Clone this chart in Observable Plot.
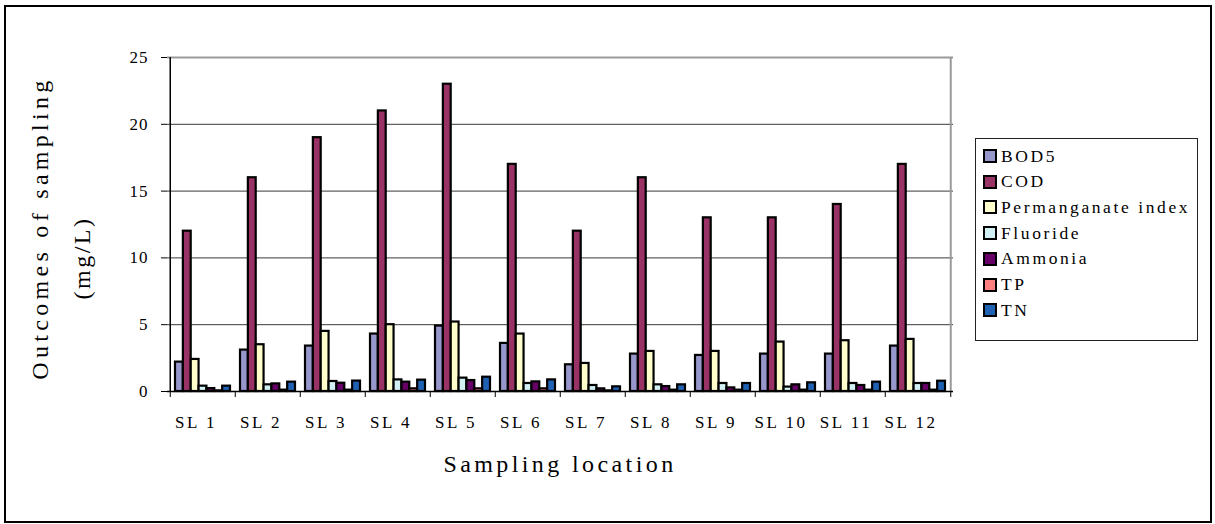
<!DOCTYPE html>
<html>
<head>
<meta charset="utf-8">
<script src="https://cdn.jsdelivr.net/npm/d3@7"></script>
<script src="https://cdn.jsdelivr.net/npm/@observablehq/plot@0.6"></script>
<style>
  body { margin: 0; background: #fff; }
  #wrap { position: relative; width: 1215px; height: 524px; }
  #legend { position: absolute; left: 975px; top: 138px; width: 223px; height: 203px;
    border: 1px solid #222; box-sizing: border-box; background: #fff;
    font-family: "Liberation Serif", "Times New Roman", serif; font-size: 17.5px; letter-spacing: 2.6px; color: #000; }
  .item { position: absolute; left: 7px; height: 20px; display: flex; align-items: center; white-space: nowrap; }
  .sw { width: 10px; height: 10px; border: 2px solid #000; margin-right: 4px; flex: none; }
</style>
</head>
<body>
<div id="wrap"><div id="legend"></div></div>
<script>
// ---- data ----
const locations = ["SL 1","SL 2","SL 3","SL 4","SL 5","SL 6","SL 7","SL 8","SL 9","SL 10","SL 11","SL 12"];
const seriesNames = ["BOD5","COD","Permanganate index","Fluoride","Ammonia","TP","TN"];
const seriesColors = ["#9797CC","#993366","#FFFFCC","#D2F0F4","#660066","#FF8080","#1F62B4"];
const bod5     = [2.2, 3.1, 3.4, 4.3, 4.9, 3.6, 2.0, 2.8, 2.7, 2.8, 2.8, 3.4];
const cod      = [12, 16, 19, 21, 23, 17, 12, 16, 13, 13, 14, 17];
const permIdx  = [2.4, 3.5, 4.5, 5.0, 5.2, 4.3, 2.1, 3.0, 3.0, 3.7, 3.8, 3.9];
const fluoride = [0.4, 0.5, 0.75, 0.87, 1.0, 0.6, 0.45, 0.5, 0.6, 0.33, 0.6, 0.6];
const ammonia  = [0.22, 0.57, 0.62, 0.7, 0.82, 0.72, 0.2, 0.37, 0.27, 0.5, 0.45, 0.6];
const tp       = [0.05, 0.1, 0.1, 0.2, 0.2, 0.2, 0.05, 0.1, 0.1, 0.1, 0.1, 0.1];
const tn       = [0.4, 0.7, 0.78, 0.85, 1.07, 0.87, 0.35, 0.5, 0.6, 0.65, 0.7, 0.77];
const yTicks   = [0, 5, 10, 15, 20, 25];
const yLabelLines = ["Outcomes of sampling", "(mg/L)"];
const xTitle = "Sampling location";

const seriesValues = [bod5, cod, permIdx, fluoride, ammonia, tp, tn];
const rows = locations.map((loc, j) => {
  const r = {loc};
  seriesNames.forEach((s, i) => r[s] = seriesValues[i][j]);
  return r;
});

// ---- layout ----
const W = 1215, H = 524;
const mL = 167, mR = 262, mT = 57, mB = 133;
const plotW = W - mL - mR;
const step = plotW / locations.length;
const pad = 0.16;
const bw = step * (1 - pad) / seriesNames.length;
const font = '"Liberation Serif", "Times New Roman", serif';

const barMarks = seriesNames.map((s, i) => Plot.barY(rows, {
  x: "loc", y: s, fill: seriesColors[i], stroke: "#000", strokeWidth: 2.2,
  insetLeft: i * bw, insetRight: (seriesNames.length - 1 - i) * bw
}));

const chart = Plot.plot({
  width: W, height: H,
  marginLeft: mL, marginRight: mR, marginTop: mT, marginBottom: mB,
  style: {fontFamily: font, background: "transparent", color: "#000"},
  x: {domain: locations, paddingInner: pad, paddingOuter: pad / 2},
  y: {domain: [0, 25]},
  marks: [
    Plot.ruleY(yTicks.filter(d => d > 0 && d < 25), {stroke: "#3a3a3a", strokeWidth: 1}),
    Plot.ruleY([25], {stroke: "#9a9a9a", strokeWidth: 2}),
    Plot.ruleX([locations[locations.length - 1]], {dx: step / 2, y1: 0, y2: 25, stroke: "#9a9a9a", strokeWidth: 2}),
    ...barMarks,
    Plot.ruleX([locations[0]], {dx: -step / 2, y1: 0, y2: 25, stroke: "#000", strokeWidth: 1.5}),
    Plot.ruleY([0], {stroke: "#000", strokeWidth: 1.5}),
    Plot.ruleX(locations, {x: d => d, dx: -step / 2, y1: 0, y2: 0, insetBottom: -6, stroke: "#000"}),
    Plot.ruleX([locations[locations.length - 1]], {dx: step / 2, y1: 0, y2: 0, insetBottom: -6, stroke: "#000"}),
    Plot.axisY({ticks: yTicks, tickSize: 6, tickPadding: 13, fontSize: 17, label: null, stroke: "#000"}),
    Plot.axisX({tickSize: 0, tickPadding: 24, fontSize: 17, label: null, dx: -7})
  ]
});

const svg = d3.select(chart);
svg.selectAll('[aria-label="x-axis tick label"] text').style("letter-spacing", "2.5px");
svg.selectAll('[aria-label="y-axis tick label"] text').style("letter-spacing", "1px");

// outer chart frame
svg.insert("rect", ":first-child")
  .attr("x", 5).attr("y", 6).attr("width", 1206).attr("height", 516)
  .attr("fill", "#fff").attr("stroke", "#000").attr("stroke-width", 2);

// y title (two rotated lines)
const ylx = [40, 82], yly = [228, 258], yls = ["4.3px", "2.5px"];
yLabelLines.forEach((t, k) => {
  svg.append("text")
    .attr("transform", `translate(${ylx[k]},${yly[k]}) rotate(-90)`)
    .attr("text-anchor", "middle").attr("dominant-baseline", "central")
    .style("font-family", font).attr("font-size", 24)
    .style("letter-spacing", yls[k])
    .attr("fill", "#000").text(t);
});
// x title
svg.append("text")
  .attr("x", mL + plotW / 2).attr("y", 464)
  .attr("text-anchor", "middle").attr("dominant-baseline", "central")
  .style("font-family", font).attr("font-size", 24)
  .style("letter-spacing", "3.4px")
  .attr("fill", "#000").text(xTitle);

document.getElementById("wrap").prepend(chart);

// legend
const lg = d3.select("#legend");
seriesNames.forEach((s, i) => {
  const it = lg.append("div").attr("class", "item").style("top", (17 + 25.7 * i - 10) + "px");
  it.append("div").attr("class", "sw").style("background", seriesColors[i]);
  it.append("span").text(s);
});
</script>
</body>
</html>
